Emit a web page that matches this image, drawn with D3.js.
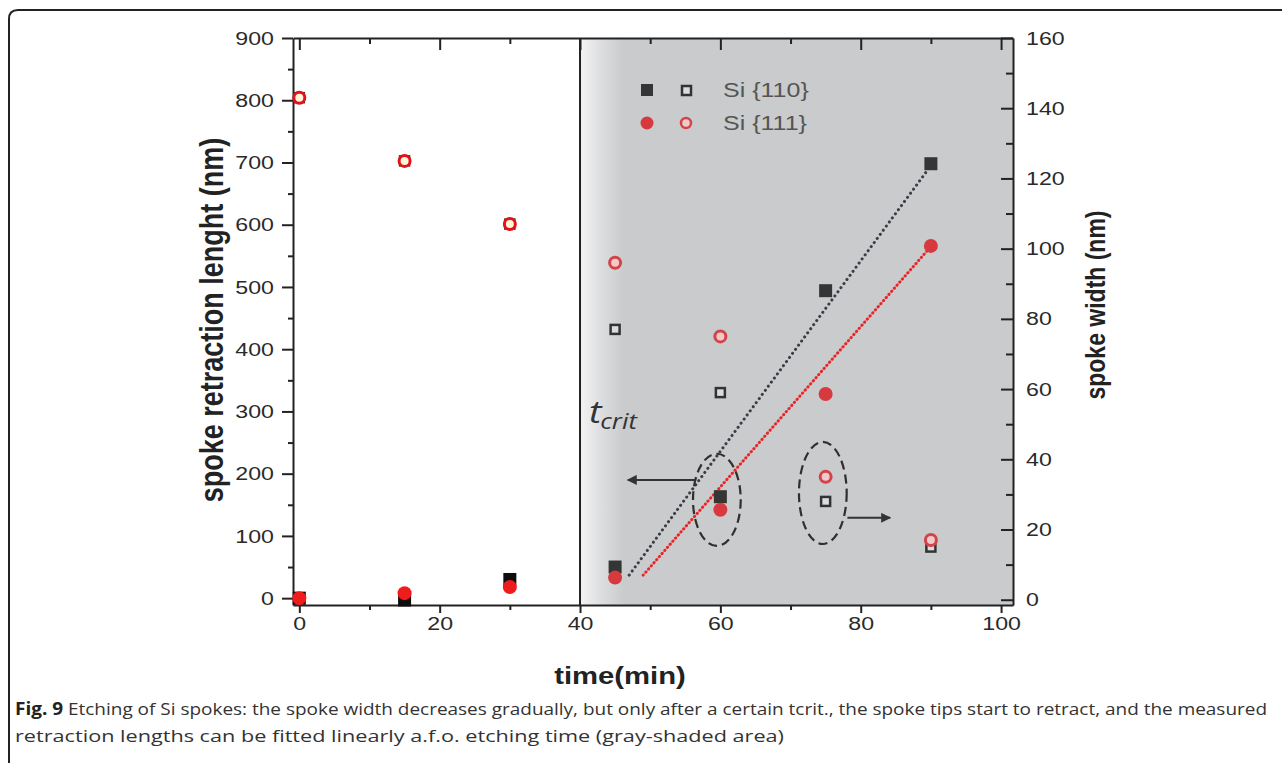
<!DOCTYPE html>
<html>
<head>
<meta charset="utf-8">
<script src="https://cdn.jsdelivr.net/npm/d3@7"></script>
<style>
  html, body { margin: 0; padding: 0; background: #fff; }
  svg { display: block; }
  .ax text { font-family: "Liberation Sans", Arial, sans-serif; font-size: 19px; fill: #2a2a2a; }
  .ax path, .ax line { stroke: #222; stroke-width: 2; }
</style>
</head>
<body>
<svg id="svg" width="1282" height="763"></svg>
<script>
// etching time points (min)
const times = [0, 15, 30, 45, 60, 75, 90];
// spoke retraction length (nm) - left axis, filled markers
const retraction110 = [0, -3, 30, 50, 163, 494, 698];
const retraction111 = [0, 8, 18, 33, 142, 328, 566];
// spoke width (nm) - right axis, open markers
const width110 = [143, 125, 107, 77, 59, 28, 15];
const width111 = [143, 125, 107, 96, 75, 35, 17];
// linear fits of retraction (time, nm)
const fit110 = [[47, 37], [90, 695]];
const fit111 = [[49, 37], [90, 565]];
const tCrit = 40;

const xTicks = [0, 20, 40, 60, 80, 100];
const leftTicks = [0, 100, 200, 300, 400, 500, 600, 700, 800, 900];
const rightTicks = [0, 20, 40, 60, 80, 100, 120, 140, 160];
const legendLabels = ["Si {110}", "Si {111}"];

const W = 1282, H = 763;
const L = 293, R = 1013, T = 38, B = 605;
const SX = 1.22; // the original figure text is drawn a bit wide
const svg = d3.select("#svg");

const x = d3.scaleLinear().domain([-0.9, 101.7]).range([L, R]);
const yL = d3.scaleLinear().domain([-11, 900]).range([B, T]);
const yR = d3.scaleLinear().domain([-1.5, 160]).range([B, T]);

// widen a text element horizontally around its anchor
function widen(sel) {
  sel.each(function () {
    const t = d3.select(this);
    const xx = +t.attr("x") || 0;
    t.attr("x", 0).attr("transform", `translate(${xx},0) scale(${SX},1)`);
  });
}

// outer figure frame
svg.append("path")
  .attr("d", `M9,${H} L9,19 Q9,10 18,10 L${W},10`)
  .attr("fill", "none").attr("stroke", "#222").attr("stroke-width", 2);

// shaded region after t_crit
const defs = svg.append("defs");
const grad = defs.append("linearGradient").attr("id", "shade")
  .attr("x1", "0").attr("x2", "1").attr("y1", "0").attr("y2", "0");
const gx0 = x(tCrit), gx1 = R;
const fadeEnd = 44 / (gx1 - gx0);
grad.append("stop").attr("offset", 0).attr("stop-color", "#f4f4f4");
grad.append("stop").attr("offset", fadeEnd * 0.5).attr("stop-color", "#dcdddf");
grad.append("stop").attr("offset", fadeEnd).attr("stop-color", "#c9cbcd");
grad.append("stop").attr("offset", 1).attr("stop-color", "#c9cbcd");
svg.append("rect")
  .attr("x", gx0).attr("y", T).attr("width", gx1 - gx0).attr("height", B - T)
  .attr("fill", "url(#shade)");
svg.append("line")
  .attr("x1", gx0).attr("x2", gx0).attr("y1", T).attr("y2", B)
  .attr("stroke", "#222").attr("stroke-width", 2);

// axes
const minorX = d3.range(10, 100, 20);
svg.append("g").attr("class", "ax").attr("transform", `translate(0,${B})`)
  .call(d3.axisBottom(x).tickValues(minorX).tickSize(5).tickFormat(""))
  .call(g => g.select(".domain").remove());
svg.append("g").attr("class", "ax").attr("transform", `translate(0,${B})`)
  .call(d3.axisBottom(x).tickValues(xTicks).tickSize(8).tickPadding(4).tickSizeOuter(0))
  .call(g => g.selectAll("text").call(widen));
svg.append("g").attr("class", "ax").attr("transform", `translate(0,${T})`)
  .call(d3.axisTop(x).tickValues(minorX).tickSize(-6).tickFormat(""))
  .call(g => g.select(".domain").remove());
svg.append("g").attr("class", "ax").attr("transform", `translate(0,${T})`)
  .call(d3.axisTop(x).tickValues(xTicks).tickSize(-12).tickSizeOuter(0).tickFormat(""));

svg.append("g").attr("class", "ax").attr("transform", `translate(${L},0)`)
  .call(d3.axisLeft(yL).tickValues(d3.range(50, 900, 100)).tickSize(5).tickFormat(""))
  .call(g => g.select(".domain").remove());
svg.append("g").attr("class", "ax").attr("transform", `translate(${L},0)`)
  .call(d3.axisLeft(yL).tickValues(leftTicks).tickSize(11).tickPadding(8).tickSizeOuter(0))
  .call(g => g.selectAll("text").call(widen));

svg.append("g").attr("class", "ax").attr("transform", `translate(${R},0)`)
  .call(d3.axisRight(yR).tickValues(d3.range(10, 160, 20)).tickSize(-7).tickFormat(""))
  .call(g => g.select(".domain").remove());
svg.append("g").attr("class", "ax").attr("transform", `translate(${R},0)`)
  .call(d3.axisRight(yR).tickValues(rightTicks).tickSize(-12).tickPadding(13).tickSizeOuter(0))
  .call(g => g.selectAll("text").call(widen));

// axis titles
const titleFont = "'Liberation Sans', Arial, sans-serif";
svg.append("text")
  .attr("transform", `translate(214,320) rotate(-90) scale(1,${SX})`)
  .attr("text-anchor", "middle").attr("dominant-baseline", "middle")
  .attr("font-family", titleFont).attr("font-size", 27).attr("font-weight", 600).attr("fill", "#222")
  .text("spoke retraction lenght (nm)");
svg.append("text")
  .attr("transform", `translate(1098,305) rotate(-90) scale(1,${SX})`)
  .attr("text-anchor", "middle").attr("dominant-baseline", "middle")
  .attr("font-family", titleFont).attr("font-size", 23).attr("font-weight", 600).attr("fill", "#222")
  .text("spoke width (nm)");
svg.append("text")
  .attr("x", 620).attr("y", 684).attr("text-anchor", "middle")
  .attr("font-family", titleFont).attr("font-size", 24).attr("font-weight", 600).attr("fill", "#222")
  .text("time(min)").call(widen);

// colours depend on whether the point sits in the shaded region
const sqFill = t => t > tCrit ? "#353535" : "#0d0d0d";
const ciFill = t => t > tCrit ? "#d63a3e" : "#ee1c1c";

// fit lines
const line = d3.line().x(d => x(d[0])).y(d => yL(d[1]));
svg.append("path").datum(fit110).attr("d", line)
  .attr("fill", "none").attr("stroke", "#3a3f46").attr("stroke-width", 3)
  .attr("stroke-dasharray", "0.1,5").attr("stroke-linecap", "round");
svg.append("path").datum(fit111).attr("d", line)
  .attr("fill", "none").attr("stroke", "#f08f8f").attr("stroke-width", 1.5);
svg.append("path").datum(fit111).attr("d", line)
  .attr("fill", "none").attr("stroke", "#e2262a").attr("stroke-width", 3)
  .attr("stroke-dasharray", "0.1,4").attr("stroke-linecap", "round");

// open markers (width, right axis)
const pts = times.map((t, i) => ({ t, r110: retraction110[i], r111: retraction111[i], w110: width110[i], w111: width111[i] }));
const s = 11;
svg.append("g").selectAll("rect").data(pts).join("rect")
  .attr("x", d => x(d.t) - s / 2 + 1).attr("y", d => yR(d.w110) - s / 2 + 1)
  .attr("width", s - 2).attr("height", s - 2)
  .attr("fill", "#dcdcdc").attr("stroke", "#333").attr("stroke-width", 2.5);
svg.append("g").selectAll("circle").data(pts).join("circle")
  .attr("cx", d => x(d.t)).attr("cy", d => yR(d.w111)).attr("r", 5.5)
  .attr("fill", d => d.t > tCrit ? "#f1c9c9" : "#fff6d8")
  .attr("stroke", d => d.t > tCrit ? "#d2444a" : "#e3121a").attr("stroke-width", 3);

// filled markers (retraction, left axis)
svg.append("g").selectAll("rect").data(pts).join("rect")
  .attr("x", d => x(d.t) - 6.5).attr("y", d => yL(d.r110) - 6.5)
  .attr("width", 13).attr("height", 13)
  .attr("fill", d => sqFill(d.t));
svg.append("g").selectAll("circle").data(pts).join("circle")
  .attr("cx", d => x(d.t)).attr("cy", d => yL(d.r111)).attr("r", 7)
  .attr("fill", d => ciFill(d.t));

// dashed ellipses marking the two axis groups
const ellipses = [{ t: 59.5, v: 158, rt: 3.4, rv: 74 }, { t: 74.6, v: 169, rt: 3.4, rv: 82 }];
svg.append("g").selectAll("ellipse").data(ellipses).join("ellipse")
  .attr("cx", d => x(d.t)).attr("cy", d => yL(d.v))
  .attr("rx", d => x(d.t + d.rt) - x(d.t)).attr("ry", d => yL(d.v - d.rv) - yL(d.v))
  .attr("fill", "none").attr("stroke", "#2f2f2f").attr("stroke-width", 2.2)
  .attr("stroke-dasharray", "9,5");

// arrows pointing to the relevant axis
defs.append("marker").attr("id", "arr").attr("viewBox", "0 0 10 10")
  .attr("refX", 9).attr("refY", 5).attr("markerWidth", 6).attr("markerHeight", 5)
  .attr("markerUnits", "strokeWidth").attr("orient", "auto")
  .append("path").attr("d", "M0,0 L10,5 L0,10 z").attr("fill", "#333");
const arrows = [{ from: 56.4, to: 46.8, v: 190 }, { from: 78.1, to: 84.2, v: 129 }];
svg.append("g").selectAll("line").data(arrows).join("line")
  .attr("x1", d => x(d.from)).attr("x2", d => x(d.to))
  .attr("y1", d => yL(d.v)).attr("y2", d => yL(d.v))
  .attr("stroke", "#333").attr("stroke-width", 2).attr("marker-end", "url(#arr)");

// t_crit label
const tc = svg.append("text").attr("x", 589).attr("y", 423)
  .attr("font-family", "'Open Sans', 'DejaVu Sans', sans-serif").attr("font-style", "italic")
  .attr("fill", "#333");
tc.append("tspan").attr("font-size", 31).text("t");
tc.append("tspan").attr("font-size", 21).attr("dy", 6).attr("dx", -1).text("crit");
tc.call(widen);

// legend
const lg = svg.append("g").attr("transform", "translate(647,90)");
legendLabels.forEach((lab, i) => {
  const gy = i * 33;
  if (i === 0) {
    lg.append("rect").attr("x", -6).attr("y", gy - 6).attr("width", 12).attr("height", 12).attr("fill", "#353535");
    lg.append("rect").attr("x", 35).attr("y", gy - 4).attr("width", 9).attr("height", 9)
      .attr("fill", "#dcdcdc").attr("stroke", "#333").attr("stroke-width", 2.5);
  } else {
    lg.append("circle").attr("cx", 0).attr("cy", gy).attr("r", 6.5).attr("fill", "#d63a3e");
    lg.append("circle").attr("cx", 39).attr("cy", gy).attr("r", 5).attr("fill", "#f1c9c9")
      .attr("stroke", "#d2444a").attr("stroke-width", 2.5);
  }
  lg.append("text").attr("x", 76).attr("y", gy).attr("dy", "0.36em")
    .attr("font-family", titleFont).attr("font-size", 20.5).attr("fill", "#555").text(lab).call(widen);
});

// caption
const cap = svg.append("g").attr("font-family", "'Open Sans', 'Noto Sans', sans-serif").attr("font-size", 17).attr("fill", "#333");
const c1 = cap.append("text").attr("x", 15).attr("y", 715);
c1.append("tspan").attr("font-weight", 700).attr("fill", "#222").text("Fig. 9");
c1.append("tspan").text(" Etching of Si spokes: the spoke width decreases gradually, but only after a certain tcrit., the spoke tips start to retract, and the measured");
cap.append("text").attr("x", 15).attr("y", 742)
  .attr("textLength", 769).attr("lengthAdjust", "spacingAndGlyphs")
  .text("retraction lengths can be fitted linearly a.f.o. etching time (gray-shaded area)");
c1.attr("textLength", 1252).attr("lengthAdjust", "spacingAndGlyphs");
</script>
</body>
</html>
